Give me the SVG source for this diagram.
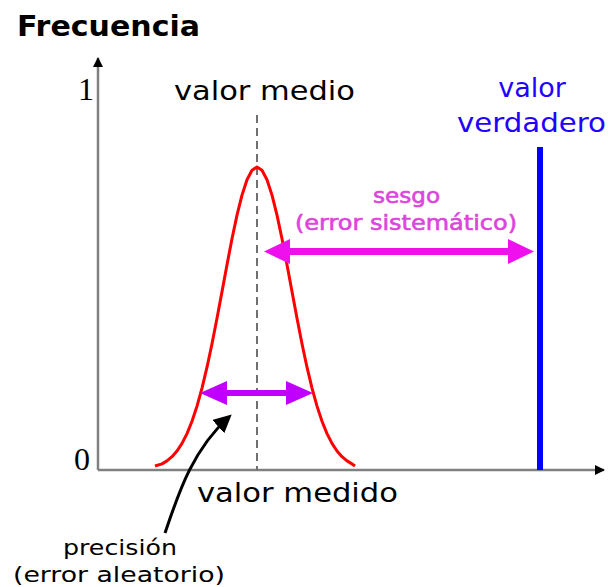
<svg xmlns="http://www.w3.org/2000/svg" width="610" height="587" viewBox="0 0 610 587">
<style>
.t{font-family:"DejaVu Sans","Liberation Sans",sans-serif;}
.num{font-family:"Liberation Serif","DejaVu Serif",serif;font-size:32px;fill:#000;}
.axis{stroke:#808080;stroke-width:2.5;fill:none;}
.bias{font-size:21px;fill:#dd44dd;stroke:#dd44dd;stroke-width:0.6;}
</style>
<defs>
<marker id="ah" viewBox="0 0 10 10" refX="9" refY="5" markerWidth="4" markerHeight="4" orient="auto"><path d="M0,0L10,5L0,10z" fill="#000"/></marker>
<marker id="bh" viewBox="0 0 10 10" refX="8" refY="5" markerWidth="6" markerHeight="6" orient="auto"><path d="M0,0L10,5L0,10z" fill="#000"/></marker>
</defs>
<rect width="610" height="587" fill="#fff"/>
<g id="axes">
<line class="axis" x1="98" y1="470" x2="98" y2="58" marker-end="url(#ah)"/>
<line class="axis" x1="98" y1="470" x2="604" y2="470" marker-end="url(#ah)"/>
<text class="t" x="17" y="36" font-size="29" font-weight="bold" textLength="183" lengthAdjust="spacingAndGlyphs">Frecuencia</text>
<text class="num" x="78" y="100">1</text>
<text class="num" x="74" y="470">0</text>
</g>
<g id="mean">
<line x1="257" y1="115" x2="257" y2="470" stroke="#707070" stroke-width="2" stroke-dasharray="8,5"/>
<text class="t" x="174" y="100" font-size="27" fill="#000" textLength="181" lengthAdjust="spacingAndGlyphs">valor medio</text>
</g>
<g id="curve">
<path d="M155,466 L162,463.9 L167,460.9 L172,456.7 L177,451 L182,443.4 L187,433.6 L192,421.3 L197,406.1 L202,388.1 L207,367.2 L212,343.8 L217,318.3 L222,291.6 L227,264.7 L232,238.7 L237,215.1 L242,195.1 L247,179.8 L252,170.3 L257,167 L262,170.3 L267,179.8 L272,195.1 L277,215.1 L282,238.7 L287,264.7 L292,291.6 L297,318.3 L302,343.8 L307,367.2 L312,388.1 L317,406.1 L322,421.3 L327,433.6 L332,443.4 L337,451 L342,456.7 L347,460.9 L352,463.9 L355,466" fill="none" stroke="#ff0000" stroke-width="3" stroke-linejoin="round"/>
</g>
<g id="true-value">
<line x1="540" y1="147" x2="540" y2="470" stroke="#0000ff" stroke-width="6"/>
<text class="t" x="532" y="97" font-size="27" fill="#2200ff" text-anchor="middle">valor</text>
<text class="t" x="457" y="132" font-size="27" fill="#2200ff" textLength="149" lengthAdjust="spacingAndGlyphs">verdadero</text>
</g>
<g id="connectors">
<g id="bias-arrow" fill="#ee11ee">
<rect x="285" y="248" width="230" height="7"/>
<path d="M264,251.5 L290,239 L290,264 Z"/>
<path d="M534,251.5 L508,239 L508,264 Z"/>
</g>
<g id="precision-arrow" fill="#c000ff">
<rect x="220" y="390" width="75" height="6"/>
<path d="M200,393 L227,381 L227,405 Z"/>
<path d="M313,393 L286,381 L286,405 Z"/>
</g>
<path id="pointer" d="M165,533 C178,495 192,450 229,417" fill="none" stroke="#000" stroke-width="3" marker-end="url(#bh)"/>
</g>
<g id="labels">
<text class="t bias" x="373" y="203" textLength="67" lengthAdjust="spacingAndGlyphs">sesgo</text>
<text class="t bias" x="295" y="230" textLength="222" lengthAdjust="spacingAndGlyphs">(error sistemático)</text>
<text class="t" x="197" y="502" font-size="26" fill="#000" textLength="201" lengthAdjust="spacingAndGlyphs">valor medido</text>
<text class="t" x="63" y="555" font-size="21" fill="#000" textLength="114" lengthAdjust="spacingAndGlyphs">precisión</text>
<text class="t" x="13" y="582" font-size="21" fill="#000" textLength="212" lengthAdjust="spacingAndGlyphs">(error aleatorio)</text>
</g>
</svg>
